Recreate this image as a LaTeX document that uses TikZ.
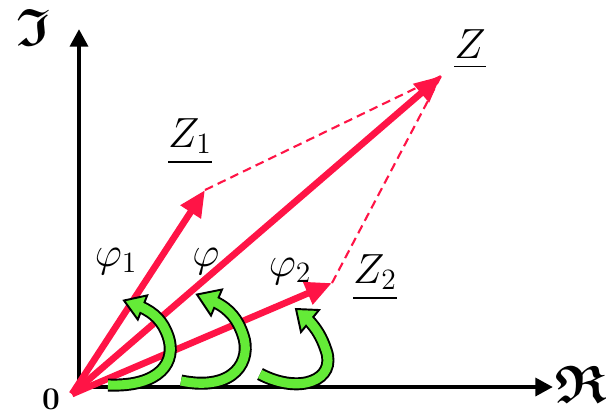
\RequirePackage{fix-cm}
\documentclass[tikz,border=0pt]{standalone}
\usepackage{amsmath,amssymb}
\usetikzlibrary{arrows.meta}
\definecolor{phasorred}{RGB}{255,20,70}
\definecolor{anglegreen}{RGB}{100,235,55}
\tikzset{
	phasor/.style={draw=phasorred, line width=3.8pt, arrows={-Triangle[length=15pt,width=13pt]}},
	helper/.style={draw=phasorred, line width=1.2pt, dash pattern=on 5pt off 3pt},
	axisline/.style={line width=2.8pt, line join=miter, arrows={Triangle[length=10pt,width=10pt]-Triangle[length=10pt,width=10pt]}},
	ribbon/.style={draw=black, line width=7.4pt},
	ribbonfill/.style={draw=anglegreen, line width=5.2pt},
	turnhead/.style={draw=black, fill=anglegreen, line width=1.1pt, line join=miter},
	lbl/.style={font=\fontsize{24}{28}\selectfont, inner sep=0pt, anchor=base},
	frak/.style={font=\fontsize{30}{34}\selectfont, inner sep=0pt}
}
% green turning arrow: path, tip, two barbs
\newcommand{\turnarrow}[4]{%
	\draw[ribbon] #1;
	\filldraw[turnhead] #2 -- #3 -- #4 -- cycle;
	\draw[ribbonfill] #1;}
\begin{document}
\begin{tikzpicture}[x=0.02cm,y=-0.02cm]
	\useasboundingbox (0,0) rectangle (606,414);
	% axes
	\coordinate (re) at (553,387);
	\coordinate (c) at (79,387);
	\coordinate (im) at (79,29);
	\draw[axisline] (re) -- (c) -- (im);
	\node[frak] (reLabel) at (581,384) {$\boldsymbol{\mathfrak{R}}$};
	\node[frak] (imLabel) at (34,27) {$\boldsymbol{\mathfrak{I}}$};
	\node[font=\fontsize{18}{21}\selectfont\bfseries, inner sep=0pt] (zero) at (51,399) {0};
	% phasors
	\coordinate (O) at (72,394);
	\coordinate (Z) at (441,76);
	\coordinate (Z1) at (205,190);
	\coordinate (Z2) at (332,283);
	\draw[helper] (Z1) -- (Z);
	\draw[helper] (Z2) -- (Z);
	\draw[phasor] (O) -- (Z1);
	\draw[phasor] (O) -- (Z);
	\draw[phasor] (O) -- (Z2);
	\node[lbl] (zLabel) at (470,58) {$\underline{Z\vrule width 0pt depth 1.5pt}$};
	\node[lbl] (z1Label) at (190,147) {$\underline{Z_1\vrule width 0pt depth 5pt}$};
	\node[lbl] (z2Label) at (375,283) {$\underline{Z_2\vrule width 0pt depth 5pt}$};
	\node[lbl] (phi1) at (116,266) {$\varphi_1$};
	\node[lbl] (phi) at (206,266) {$\varphi$};
	\node[lbl] (phi2) at (290,276) {$\varphi_2$};
	% angles
	\turnarrow{(108,385) .. controls (160,387) and (177,362) .. (168,336) .. controls (163,322) and (155,313) .. (140,306.5)}{(124,300.5)}{(147.2,295.4)}{(137.8,319.6)}
	\turnarrow{(181,381) .. controls (235,392) and (252,360) .. (243,335) .. controls (238,320) and (230,309) .. (214,301.5)}{(197,294.5)}{(222,289.5)}{(211,315.5)}
	\turnarrow{(260,374) .. controls (300,395) and (337,380) .. (326,350) .. controls (322,338) and (317,329) .. (307.5,319)}{(296,309)}{(319,310)}{(301,332)}
\end{tikzpicture}
\end{document}
